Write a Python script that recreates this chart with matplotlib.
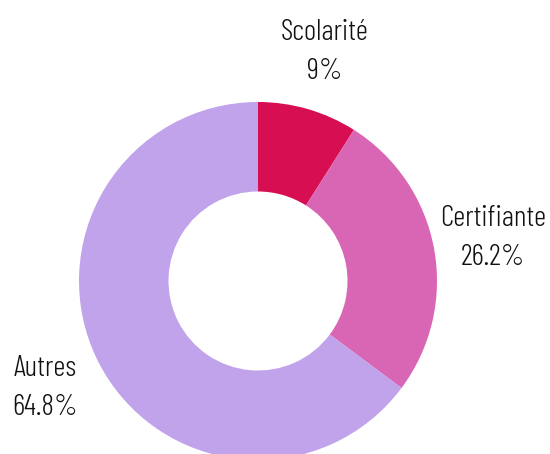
import matplotlib
matplotlib.use("Agg")
import matplotlib.pyplot as plt

categories = ["Scolarité", "Certifiante", "Autres"]
values = [9, 26.2, 64.8]
pct_labels = ["9%", "26.2%", "64.8%"]
colors = ["#D70F52", "#D966B4", "#C0A3EB"]

plt.rcParams['font.family'] = ['Barlow Condensed', 'DejaVu Sans']

fig = plt.figure(figsize=(5.5, 4.54), dpi=100)
ax = fig.add_axes([79/550, 1 - 460/454, 358/550, 358/454])
labels = [f"{c}\n{p}" for c, p in zip(categories, pct_labels)]
wedges, texts = ax.pie(values, colors=colors, startangle=90, counterclock=False,
                       radius=1, labels=labels, labeldistance=1.333,
                       wedgeprops=dict(width=0.5, linewidth=0),
                       textprops=dict(fontsize=21.5, color="#111111", va="center",
                                      linespacing=1.55, fontweight=300))
for t in texts:
    t.set_ha("center")
    t.set_multialignment("center")
ax.set_xlim(-1, 1)
ax.set_ylim(-1, 1)
ax.set_aspect("equal")
ax.axis("off")
fig.savefig("out.png", dpi=100)
